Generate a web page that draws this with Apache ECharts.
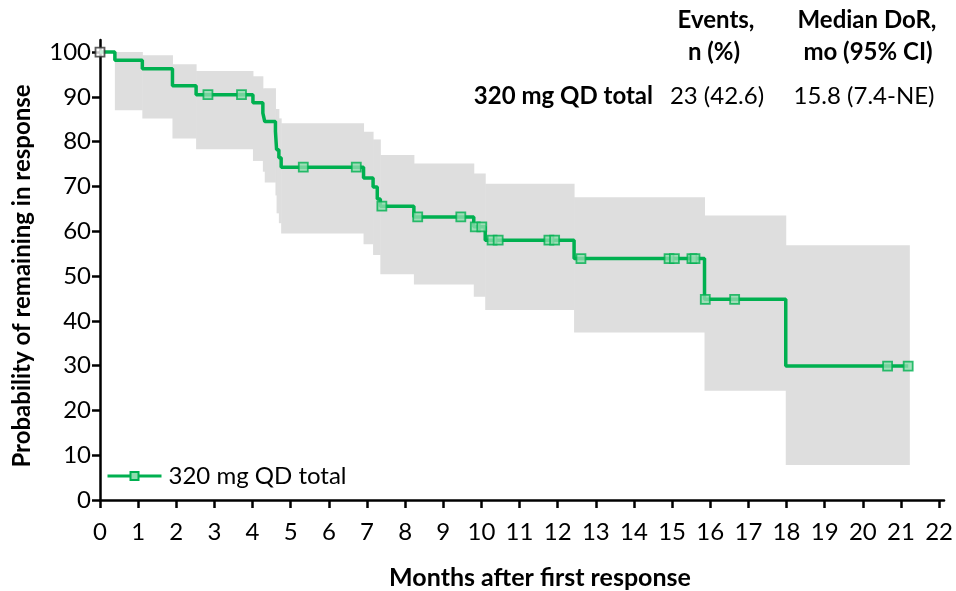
<!DOCTYPE html>
<html>
<head>
<meta charset="utf-8">
<script src="https://cdn.jsdelivr.net/npm/echarts@6/dist/echarts.min.js"></script>
<style>
html,body{margin:0;padding:0;background:#fff;}
#chart{width:956px;height:591px;}
</style>
</head>
<body>
<div id="chart"></div>
<script>
// Kaplan-Meier step curve (time in months, % remaining in response)
const kmTime = [0, 0.39, 1.11, 1.90, 2.52, 4.01, 4.27, 4.32, 4.60, 4.63, 4.69, 4.75, 6.91, 7.16, 7.27, 7.35, 8.23, 9.80, 10.10, 12.43, 15.85, 17.98, 21.19];
const kmSurv = [100, 98.2, 96.3, 92.5, 90.5, 88.7, 86.4, 84.5, 82.3, 78.2, 76.4, 74.3, 71.9, 69.9, 67.2, 65.6, 63.2, 61.0, 58.0, 53.9, 44.8, 29.9, 29.9];

// 95% CI band (each value holds from its time to the next time)
const ciTime  = [0.39, 1.11, 1.90, 2.52, 4.01, 4.27, 4.32, 4.60, 4.63, 4.69, 4.75, 6.91, 7.16, 7.35, 8.23, 9.80, 10.10, 12.43, 15.85, 17.98, 21.22];
const ciUpper = [100, 99.3, 97.3, 95.8, 94.6, 91.9, 91.9, 87.3, 87.3, 85.2, 84.1, 82.2, 80.5, 77.0, 75.1, 72.9, 70.6, 67.6, 63.5, 56.9, 56.9];
const ciLower = [87.0, 85.2, 80.7, 78.3, 75.7, 73.3, 70.9, 68.0, 64.0, 61.8, 59.5, 57.1, 54.7, 50.4, 48.1, 45.4, 42.4, 37.4, 24.4, 7.8, 7.8];

// Censored observations
const censorTime = [0, 2.83, 3.71, 5.33, 6.72, 7.39, 8.33, 9.46, 9.84, 10.01, 10.28, 10.44, 11.77, 11.92, 12.61, 14.92, 15.06, 15.52, 15.60, 15.87, 16.64, 20.65, 21.19];
const censorSurv = [100, 90.5, 90.5, 74.3, 74.3, 65.6, 63.2, 63.2, 61.0, 61.0, 58.0, 58.0, 58.0, 58.0, 53.9, 53.9, 53.9, 53.9, 53.9, 44.8, 44.8, 29.9, 29.9];

// Axis ticks
const xTicks = [0,1,2,3,4,5,6,7,8,9,10,11,12,13,14,15,16,17,18,19,20,21,22];
const yTicks = [0,10,20,30,40,50,60,70,80,90,100];

// Summary table
const seriesName = '320 mg QD total';
const tableHeader1 = ['Events,', 'n (%)'];
const tableHeader2 = ['Median DoR,', 'mo (95% CI)'];
const tableRow = ['320 mg QD total', '23 (42.6)', '15.8 (7.4-NE)'];

const FONT = 'Lato, "Open Sans", sans-serif';
const GREEN = '#00b050';
const FS = 24;

const chart = echarts.init(document.getElementById('chart'), null, {renderer: 'canvas'});

const bandData = [];
for (let i = 0; i < ciTime.length - 1; i++) {
  bandData.push([ciTime[i], ciTime[i + 1], ciUpper[i], ciLower[i]]);
}
const kmData = kmTime.map((t, i) => [t, kmSurv[i]]);
const censorData = censorTime.map((t, i) => {
  const d = {value: [t, censorSurv[i]]};
  if (t === 0) d.itemStyle = {borderColor: '#333', color: '#fff'};
  return d;
});

const option = {
  animation: false,
  backgroundColor: '#fff',
  grid: {left: 100, right: 8, top: 40, bottom: 91, containLabel: false},
  xAxis: {
    type: 'value', min: 0, max: 22.13,
    axisLine: {show: true, onZero: false, lineStyle: {color: '#000', width: 2.5}},
    axisTick: {show: true, length: 8, lineStyle: {color: '#000', width: 2.5}, customValues: xTicks},
    axisLabel: {color: '#000', fontSize: FS, fontFamily: FONT, margin: 20, customValues: xTicks},
    splitLine: {show: false}
  },
  yAxis: {
    type: 'value', min: 0, max: 102.7,
    axisLine: {show: true, onZero: false, lineStyle: {color: '#000', width: 2.5}},
    axisTick: {show: true, length: 8, lineStyle: {color: '#000', width: 2.5}, customValues: yTicks},
    axisLabel: {color: '#000', fontSize: FS, fontFamily: FONT, margin: 9, customValues: yTicks},
    splitLine: {show: false}
  },
  legend: {
    left: 101, top: 459,
    itemWidth: 54, itemHeight: 10, itemGap: 10,
    lineStyle: {width: 3},
    textStyle: {color: '#000', fontSize: FS, fontFamily: FONT, padding: [0, 0, 0, 2]},
    data: [seriesName]
  },
  series: [
    {
      name: 'ci', type: 'custom', silent: true, z: 1,
      data: bandData,
      encode: {x: [0, 1], y: [2, 3]},
      renderItem: function (params, api) {
        const p1 = api.coord([api.value(0), api.value(2)]);
        const p2 = api.coord([api.value(1), api.value(3)]);
        return {
          type: 'rect',
          shape: {x: p1[0], y: p1[1], width: p2[0] - p1[0] + 0.5, height: p2[1] - p1[1]},
          style: {fill: '#dedede'}
        };
      }
    },
    {
      name: seriesName, type: 'line', step: 'end',
      data: kmData, symbol: 'rect', symbolSize: 9, showSymbol: false,
      lineStyle: {color: GREEN, width: 3.5},
      itemStyle: {color: '#8fdcae', borderColor: GREEN, borderWidth: 1.8},
      z: 3
    },
    {
      name: 'censored', type: 'scatter',
      data: censorData, symbol: 'rect', symbolSize: 9,
      itemStyle: {color: '#8fdcae', borderColor: GREEN, borderWidth: 1.8},
      z: 4
    }
  ],
  graphic: [
    {type: 'text', x: 540, y: 578, style: {text: 'Months after first response', font: 'bold 25px ' + FONT, fill: '#000', textAlign: 'center', textVerticalAlign: 'middle'}},
    {type: 'text', x: 22, y: 276, rotation: Math.PI / 2, style: {text: 'Probability of remaining in response', font: 'bold 24px ' + FONT, fill: '#000', textAlign: 'center', textVerticalAlign: 'middle'}},
    {type: 'text', x: 716, y: 20, style: {text: tableHeader1[0], font: 'bold 24px ' + FONT, fill: '#000', textAlign: 'center', textVerticalAlign: 'middle'}},
    {type: 'text', x: 714, y: 52, style: {text: tableHeader1[1], font: 'bold 24px ' + FONT, fill: '#000', textAlign: 'center', textVerticalAlign: 'middle'}},
    {type: 'text', x: 867, y: 20, style: {text: tableHeader2[0], font: 'bold 24px ' + FONT, fill: '#000', textAlign: 'center', textVerticalAlign: 'middle'}},
    {type: 'text', x: 868, y: 52, style: {text: tableHeader2[1], font: 'bold 24px ' + FONT, fill: '#000', textAlign: 'center', textVerticalAlign: 'middle'}},
    {type: 'text', x: 653, y: 96, style: {text: tableRow[0], font: 'bold 24px ' + FONT, fill: '#000', textAlign: 'right', textVerticalAlign: 'middle'}},
    {type: 'text', x: 717, y: 96, style: {text: tableRow[1], font: '24px ' + FONT, fill: '#000', textAlign: 'center', textVerticalAlign: 'middle'}},
    {type: 'text', x: 864, y: 96, style: {text: tableRow[2], font: '24px ' + FONT, fill: '#000', textAlign: 'center', textVerticalAlign: 'middle'}}
  ]
};
chart.setOption(option);
</script>
</body>
</html>
